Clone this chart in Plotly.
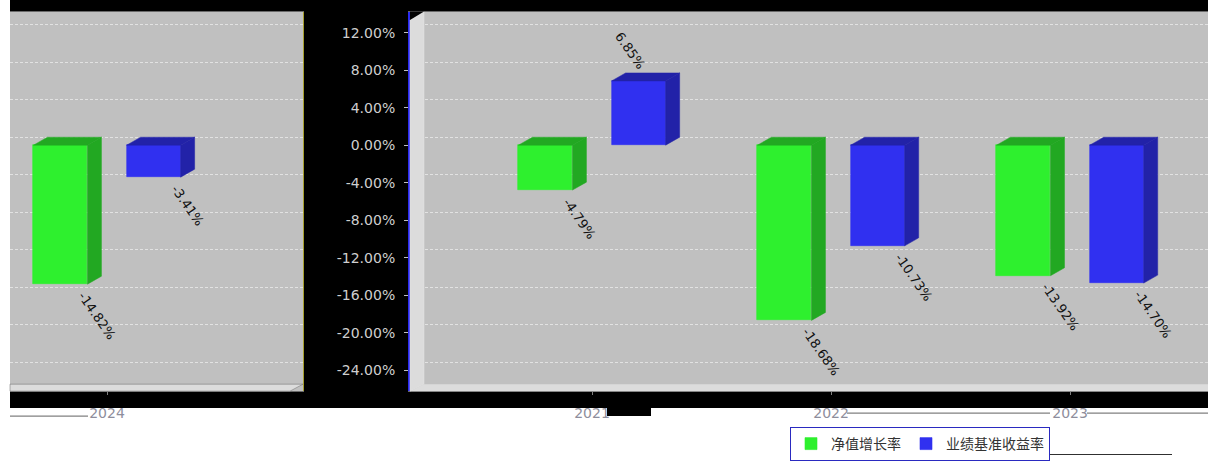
import plotly.graph_objects as go

# ---------------- data ----------------
years_right = ['2021', '2022', '2023']
years_left = ['2024']
nav_growth_right = [-4.79, -18.68, -13.92]
benchmark_right = [6.85, -10.73, -14.70]
nav_growth_left = [-14.82]
benchmark_left = [-3.41]
y_tick_values = [12, 8, 4, 0, -4, -8, -12, -16, -20, -24]
series_names = ['净值增长率', '业绩基准收益率']

# ---------------- styling ----------------
W, H = 1208, 461
def px(x): return x / W
def py(y): return 1 - y / H

GREEN, GREEN_D = '#2ef02e', '#22a822'
BLUE, BLUE_D = '#3030f0', '#2222a8'
BAR_W = 0.226
OFF = 0.195
DX = 0.0586     # 3D depth in x units
DY = 0.851      # 3D depth in y units
YR = [-26.22, 14.20]
FONT = 'DejaVu Sans'

fig = go.Figure()

def add_series(xax, yax, cats, vals, offset, color, dark, name, showleg):
    xs = [i + offset for i in range(len(cats))]
    fig.add_trace(go.Bar(x=xs, y=vals, width=BAR_W, marker=dict(color=color, line=dict(color=color, width=0.6)),
                         name=name, showlegend=showleg, xaxis=xax, yaxis=yax, legendrank=1 if color == GREEN else 2))
    sx, sy, tx, ty = [], [], [], []
    for c, v in zip(xs, vals):
        l, r = c - BAR_W / 2, c + BAR_W / 2
        sx += [r, r + DX, r + DX, r, r, None]
        sy += [0, DY, v + DY, v, 0, None]
        t = max(v, 0)
        tx += [l, l + DX, r + DX, r, l, None]
        ty += [t, t + DY, t + DY, t, t, None]
    for X, Y in ((sx, sy), (tx, ty)):
        fig.add_trace(go.Scatter(x=X, y=Y, mode='lines', fill='toself', fillcolor=dark,
                                 line=dict(color=dark, width=0.5), showlegend=False,
                                 hoverinfo='skip', xaxis=xax, yaxis=yax))
    return xs

ann = []
def labels(xax, yax, xs, vals):
    for c, v in zip(xs, vals):
        if v < 0:
            ann.append(dict(x=c + BAR_W / 2, y=v, xref=xax, yref=yax, text=f'{v:.2f}%', showarrow=False,
                            textangle=55, xanchor='left', yanchor='top', xshift=-15, yshift=-2,
                            font=dict(family=FONT, size=13, color='#111111')))
        else:
            ann.append(dict(x=c - BAR_W / 2, y=v, xref=xax, yref=yax, text=f'{v:.2f}%', showarrow=False,
                            textangle=55, xanchor='left', yanchor='bottom', xshift=-2, yshift=7,
                            font=dict(family=FONT, size=13, color='#111111')))

# right panel
xs = add_series('x2', 'y3', years_right, nav_growth_right, -OFF, GREEN, GREEN_D, series_names[0], True)
labels('x2', 'y3', xs, nav_growth_right)
xs = add_series('x2', 'y3', years_right, benchmark_right, OFF, BLUE, BLUE_D, series_names[1], True)
labels('x2', 'y3', xs, benchmark_right)
# left panel
xs = add_series('x', 'y', years_left, nav_growth_left, -OFF, GREEN, GREEN_D, series_names[0], False)
labels('x', 'y', xs, nav_growth_left)
xs = add_series('x', 'y', years_left, benchmark_left, OFF, BLUE, BLUE_D, series_names[1], False)
labels('x', 'y', xs, benchmark_left)

# empty traces to make sure grid overlay axes are drawn
fig.add_trace(go.Scatter(x=[None], y=[None], xaxis='x', yaxis='y2', showlegend=False, hoverinfo='skip'))
fig.add_trace(go.Scatter(x=[None], y=[None], xaxis='x2', yaxis='y4', showlegend=False, hoverinfo='skip'))

ydom = [py(392), py(12)]
xcommon = dict(showgrid=False, zeroline=False, showline=True, mirror=True, linecolor='#6a6a6a', linewidth=1,
               ticks='outside', ticklen=3, tickcolor='#808080',
               tickfont=dict(family=FONT, size=14, color='#8e8e9c'), ticklabelstandoff=6)
gridax = dict(range=[YR[0] - DY, YR[1] - DY], showgrid=True, gridcolor='#e2e2e2', griddash='3px,2px', gridwidth=1,
              tickvals=y_tick_values, showticklabels=False, ticks='', zeroline=False, showline=False)

def hline(y, x0, x1, color='#808080'):
    return dict(type='line', xref='paper', yref='paper', x0=px(x0), x1=px(x1), y0=py(y), y1=py(y),
                line=dict(color=color, width=1.2), layer='below')

fig.update_layout(
    width=W, height=H, margin=dict(l=0, r=0, t=0, b=0),
    paper_bgcolor='black', plot_bgcolor='#c0c0c0',
    barmode='overlay', bargap=0,
    xaxis=dict(domain=[px(10), px(303)], range=[-0.406, 0.820], tickvals=list(range(len(years_left))),
               ticktext=years_left, anchor='y', **xcommon),
    xaxis2=dict(domain=[px(410), 1], range=[-0.7615, 2.577], tickvals=list(range(len(years_right))),
                ticktext=years_right, anchor='y3', **xcommon),
    yaxis=dict(domain=ydom, range=YR, anchor='x', showgrid=False, zeroline=False, showticklabels=False,
               ticks='', side='right', showline=True, linecolor='#a8a030', linewidth=1),
    yaxis2=dict(overlaying='y', anchor='x', **gridax),
    yaxis3=dict(domain=ydom, range=YR, anchor='x2', showgrid=False, zeroline=False, tickvals=y_tick_values,
                ticktext=[f'{v:.2f}%' for v in y_tick_values], ticks='outside', ticklen=4, tickcolor='#c0c0c0',
                showline=True, linecolor='#2a2af0', linewidth=2,
                tickfont=dict(family=FONT, size=14, color='#cfcfcf'), ticklabelstandoff=6),
    yaxis4=dict(overlaying='y3', anchor='x2', **gridax),
    legend=dict(orientation='h', x=px(790), y=py(428), xanchor='left', yanchor='top',
                bgcolor='white', bordercolor='#2a2ac0', borderwidth=1,
                font=dict(family='Noto Sans CJK SC', size=14, color='#333333'), traceorder='normal'),
    annotations=ann,
    shapes=[
        # white page areas outside the black canvas
        dict(type='rect', xref='paper', yref='paper', x0=-0.02, x1=px(10), y0=-0.05, y1=1.05, fillcolor='white',
             line=dict(width=0), layer='below'),
        dict(type='rect', xref='paper', yref='paper', x0=-0.02, x1=1.02, y0=-0.05, y1=py(409), fillcolor='white',
             line=dict(width=0), layer='below'),
        dict(type='rect', xref='paper', yref='paper', x0=px(607), x1=px(651), y0=py(417), y1=py(408),
             fillcolor='black', line=dict(width=0), layer='below'),
        hline(417, 10, 88),
        hline(414, 847, 1050),
        hline(414, 1087, 1208),
        hline(455.5, 912, 1172, '#303030'),
        # left wall of right panel
        dict(type='path', xref='paper', yref='paper',
             path=f'M{px(410)},{py(20)} L{px(424)},{py(12)} L{px(424)},{py(385)} L{px(410)},{py(392)} Z',
             fillcolor='#dcdcdc', line=dict(color='#e6e6e6', width=0.5), layer='above'),
        dict(type='path', xref='paper', yref='paper',
             path=f'M{px(410)},{py(11.5)} L{px(424)},{py(11.5)} L{px(410)},{py(20)} Z',
             fillcolor='black', line=dict(width=0), layer='above'),
        # floors
        dict(type='path', xref='paper', yref='paper',
             path=f'M{px(410)},{py(392)} L{px(424)},{py(385)} L{px(1208)},{py(385)} L{px(1208)},{py(392)} Z',
             fillcolor='#dcdcdc', line=dict(width=0), layer='above'),
        dict(type='path', xref='paper', yref='paper',
             path=f'M{px(10)},{py(392)} L{px(10)},{py(385)} L{px(303)},{py(385)} L{px(290)},{py(392)} Z',
             fillcolor='#dcdcdc', line=dict(color='#6a6a6a', width=0.5), layer='above'),
    ],
)

fig.write_html('out.html', config={'displayModeBar': False},
               post_script="document.body.style.margin='0';document.body.style.overflow='hidden';")
